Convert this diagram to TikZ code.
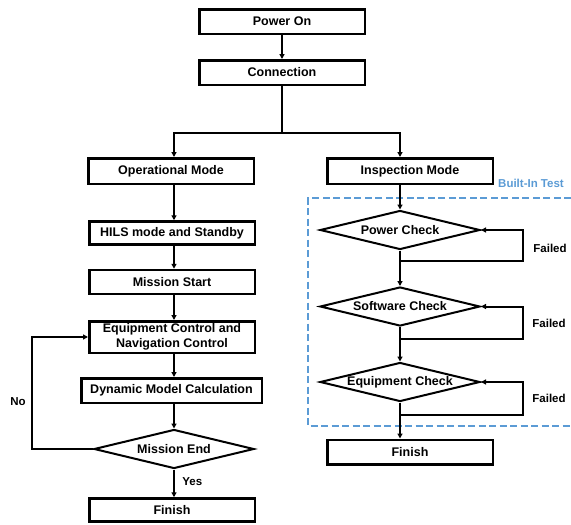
\documentclass[tikz,border=0pt]{standalone}
\usepackage{fontspec}
\setmainfont{Liberation Sans}
\usetikzlibrary{shapes.geometric,arrows.meta}
\definecolor{bitblue}{RGB}{91,155,213}
\begin{document}
\begin{tikzpicture}[x=1pt,y=-1pt,
  txt/.style={font=\bfseries\fontsize{12.5}{15}\selectfont},
  box/.style={txt,draw,line width=2.5pt,inner sep=0pt,align=center,minimum width=165.5pt},
  dia/.style={txt,draw,diamond,line width=2pt,inner sep=0pt,shape aspect=4,minimum width=160pt,minimum height=39pt},
  conn/.style={line width=2pt,-{Triangle[length=5pt,width=5pt]}},
  lbl/.style={font=\bfseries\fontsize{11.5}{13}\selectfont},
]
\useasboundingbox (0,0) rectangle (571,525);
% nodes
\node[box,minimum height=24.5pt] (pon) at (282,21.5) {Power On};
\node[box,minimum height=24.5pt] (con) at (282,72.5) {Connection};
\node[box,minimum height=25.5pt] (op) at (171,171) {Operational Mode};
\node[box,minimum height=25.5pt] (insp) at (410,171) {Inspection Mode};
\node[box,minimum height=23pt] (hils) at (172,233) {HILS mode and Standby};
\node[box,minimum height=24pt] (ms) at (172,282) {Mission Start};
\node[box,minimum height=31.5pt] (ecn) at (172,337) {Equipment Control and\\Navigation Control};
\node[box,minimum height=24.5pt,minimum width=180.5pt] (dmc) at (171.5,390.5) {Dynamic Model Calculation};
\node[dia] (me) at (174,449) {Mission End};
\node[box,minimum height=23pt] (fin1) at (172,510) {Finish};
\node[dia] (pc) at (400,230) {Power Check};
\node[dia] (sc) at (400,306.5) {Software Check};
\node[dia] (eqc) at (400,382) {Equipment Check};
\node[box,minimum height=24.5pt] (fin2) at (410,452) {Finish};
% coordinates
\coordinate (brL) at (174,133);
\coordinate (brR) at (400,133);
\coordinate (noc) at (32,400);
\coordinate (f1) at (523,261);
\coordinate (f2) at (523,339);
\coordinate (f3) at (523,414.5);
% built-in test box
\draw[bitblue,line width=1.8pt,dash pattern=on 7pt off 3.5pt] (571,198) -- (308,198) -- (308,426) -- (571,426);
\node[anchor=west,text=bitblue,font=\bfseries\fontsize{11.5}{13}\selectfont,inner sep=0pt] (bit) at (498,183.5) {Built-In Test};
% connectors
\draw[conn] (pon) -- (con);
\draw[conn] (con.south) |- (brL) -- (brL |- op.north);
\draw[conn] (con.south) |- (brR) -- (brR |- insp.north);
\draw[conn] (brL |- op.south) -- (brL |- hils.north);
\draw[conn] (brL |- hils.south) -- (brL |- ms.north);
\draw[conn] (brL |- ms.south) -- (brL |- ecn.north);
\draw[conn] (brL |- ecn.south) -- (brL |- dmc.north);
\draw[conn] (brL |- dmc.south) -- (me.north);
\draw[conn] (me.south) -- (me.south |- fin1.north) node[lbl,pos=0.45,right=4pt] (yes) {Yes};
\draw[conn] (me.west) -| (noc) |- (ecn.west);
\node[lbl] (no) at (18,402) {No};
% right column
\draw[conn] (brR |- insp.south) -- (pc.north);
\draw[conn] (pc.south) -- (sc.north);
\draw[conn] (sc.south) -- (eqc.north);
\draw[conn] (eqc.south) -- (eqc.south |- fin2.north);
\draw[conn] (pc.south |- f1) -- (f1) |- (pc.east);
\draw[conn] (sc.south |- f2) -- (f2) |- (sc.east);
\draw[conn] (eqc.south |- f3) -- (f3) |- (eqc.east);
\node[lbl] (fa1) at (550,248) {Failed};
\node[lbl] (fa2) at (549,323) {Failed};
\node[lbl] (fa3) at (549,398) {Failed};
\end{tikzpicture}
\end{document}
